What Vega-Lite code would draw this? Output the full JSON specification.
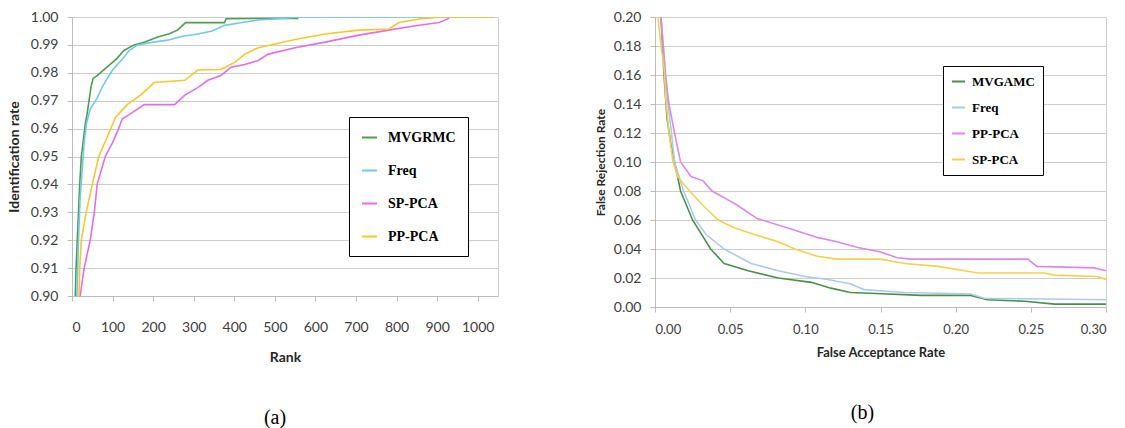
{
  "$schema": "https://vega.github.io/schema/vega-lite/v6.json",
  "background": "white",
  "padding": {"left": 6, "top": 9, "right": 10, "bottom": 2},
  "spacing": 94,
  "config": {
    "font": "Lato",
    "view": {"stroke": "#d0d0d0", "strokeWidth": 1},
    "axis": {
      "labelFont": "Lato", "titleFont": "Lato",
      "labelColor": "#404040", "titleColor": "#262626",
      "domainColor": "#bdbdbd", "tickColor": "#bdbdbd", "gridColor": "#cdcdcd",
      "titleFontWeight": "bold"
    },
    "legend": {
      "labelFont": "Liberation Serif", "labelFontWeight": "bold", "labelColor": "black",
      "strokeColor": "black", "fillColor": "white", "symbolType": "stroke",
      "symbolStrokeWidth": 2, "labelLimit": 300
    },
    "title": {"font": "Liberation Serif", "fontSize": 20, "fontWeight": "normal", "color": "black"}
  },
  "datasets": {
    "a": [
      {"s": "MVGRMC", "x": 8, "y": 0.900}, {"s": "MVGRMC", "x": 10, "y": 0.910}, {"s": "MVGRMC", "x": 13, "y": 0.920},
      {"s": "MVGRMC", "x": 16, "y": 0.930}, {"s": "MVGRMC", "x": 19, "y": 0.940}, {"s": "MVGRMC", "x": 23, "y": 0.950},
      {"s": "MVGRMC", "x": 28, "y": 0.956}, {"s": "MVGRMC", "x": 33, "y": 0.962}, {"s": "MVGRMC", "x": 37, "y": 0.965},
      {"s": "MVGRMC", "x": 42, "y": 0.970}, {"s": "MVGRMC", "x": 47, "y": 0.975}, {"s": "MVGRMC", "x": 52, "y": 0.978},
      {"s": "MVGRMC", "x": 62, "y": 0.979}, {"s": "MVGRMC", "x": 74, "y": 0.9805}, {"s": "MVGRMC", "x": 94, "y": 0.983},
      {"s": "MVGRMC", "x": 110, "y": 0.985}, {"s": "MVGRMC", "x": 128, "y": 0.988}, {"s": "MVGRMC", "x": 153, "y": 0.990},
      {"s": "MVGRMC", "x": 180, "y": 0.991}, {"s": "MVGRMC", "x": 211, "y": 0.9928}, {"s": "MVGRMC", "x": 240, "y": 0.994},
      {"s": "MVGRMC", "x": 260, "y": 0.9953}, {"s": "MVGRMC", "x": 280, "y": 0.998}, {"s": "MVGRMC", "x": 376, "y": 0.998},
      {"s": "MVGRMC", "x": 380, "y": 0.9994}, {"s": "MVGRMC", "x": 558, "y": 0.9995},

      {"s": "Freq", "x": 12, "y": 0.900}, {"s": "Freq", "x": 16, "y": 0.920}, {"s": "Freq", "x": 20, "y": 0.935},
      {"s": "Freq", "x": 25, "y": 0.945}, {"s": "Freq", "x": 30, "y": 0.955}, {"s": "Freq", "x": 36, "y": 0.962},
      {"s": "Freq", "x": 45, "y": 0.967}, {"s": "Freq", "x": 62, "y": 0.971}, {"s": "Freq", "x": 75, "y": 0.975},
      {"s": "Freq", "x": 87, "y": 0.978}, {"s": "Freq", "x": 100, "y": 0.981}, {"s": "Freq", "x": 112, "y": 0.983},
      {"s": "Freq", "x": 125, "y": 0.985}, {"s": "Freq", "x": 141, "y": 0.988}, {"s": "Freq", "x": 161, "y": 0.990},
      {"s": "Freq", "x": 200, "y": 0.991}, {"s": "Freq", "x": 236, "y": 0.9917}, {"s": "Freq", "x": 270, "y": 0.993},
      {"s": "Freq", "x": 310, "y": 0.9939}, {"s": "Freq", "x": 345, "y": 0.995}, {"s": "Freq", "x": 376, "y": 0.997},
      {"s": "Freq", "x": 420, "y": 0.998}, {"s": "Freq", "x": 459, "y": 0.9989}, {"s": "Freq", "x": 520, "y": 0.9995},
      {"s": "Freq", "x": 560, "y": 1.0}, {"s": "Freq", "x": 1040, "y": 1.0},

      {"s": "SP-PCA", "x": 20, "y": 0.900}, {"s": "SP-PCA", "x": 30, "y": 0.910}, {"s": "SP-PCA", "x": 45, "y": 0.920},
      {"s": "SP-PCA", "x": 55, "y": 0.930}, {"s": "SP-PCA", "x": 62, "y": 0.940}, {"s": "SP-PCA", "x": 82, "y": 0.950},
      {"s": "SP-PCA", "x": 100, "y": 0.955}, {"s": "SP-PCA", "x": 115, "y": 0.960}, {"s": "SP-PCA", "x": 124, "y": 0.9635},
      {"s": "SP-PCA", "x": 141, "y": 0.965}, {"s": "SP-PCA", "x": 178, "y": 0.9686}, {"s": "SP-PCA", "x": 253, "y": 0.9686},
      {"s": "SP-PCA", "x": 278, "y": 0.972}, {"s": "SP-PCA", "x": 310, "y": 0.9747}, {"s": "SP-PCA", "x": 335, "y": 0.9773},
      {"s": "SP-PCA", "x": 367, "y": 0.979}, {"s": "SP-PCA", "x": 392, "y": 0.982}, {"s": "SP-PCA", "x": 426, "y": 0.983},
      {"s": "SP-PCA", "x": 459, "y": 0.9844}, {"s": "SP-PCA", "x": 484, "y": 0.9867}, {"s": "SP-PCA", "x": 550, "y": 0.989},
      {"s": "SP-PCA", "x": 624, "y": 0.991}, {"s": "SP-PCA", "x": 707, "y": 0.9935}, {"s": "SP-PCA", "x": 781, "y": 0.9953},
      {"s": "SP-PCA", "x": 838, "y": 0.9967}, {"s": "SP-PCA", "x": 905, "y": 0.998}, {"s": "SP-PCA", "x": 930, "y": 0.9996},

      {"s": "PP-PCA", "x": 17, "y": 0.900}, {"s": "PP-PCA", "x": 19, "y": 0.910}, {"s": "PP-PCA", "x": 23, "y": 0.920},
      {"s": "PP-PCA", "x": 35, "y": 0.930}, {"s": "PP-PCA", "x": 50, "y": 0.940}, {"s": "PP-PCA", "x": 66, "y": 0.950},
      {"s": "PP-PCA", "x": 87, "y": 0.957}, {"s": "PP-PCA", "x": 107, "y": 0.964}, {"s": "PP-PCA", "x": 136, "y": 0.9686},
      {"s": "PP-PCA", "x": 169, "y": 0.972}, {"s": "PP-PCA", "x": 203, "y": 0.9765}, {"s": "PP-PCA", "x": 278, "y": 0.9773},
      {"s": "PP-PCA", "x": 293, "y": 0.979}, {"s": "PP-PCA", "x": 310, "y": 0.981}, {"s": "PP-PCA", "x": 367, "y": 0.9812},
      {"s": "PP-PCA", "x": 402, "y": 0.9838}, {"s": "PP-PCA", "x": 426, "y": 0.9867}, {"s": "PP-PCA", "x": 459, "y": 0.989},
      {"s": "PP-PCA", "x": 553, "y": 0.992}, {"s": "PP-PCA", "x": 624, "y": 0.9939}, {"s": "PP-PCA", "x": 707, "y": 0.9953},
      {"s": "PP-PCA", "x": 781, "y": 0.9957}, {"s": "PP-PCA", "x": 806, "y": 0.998}, {"s": "PP-PCA", "x": 856, "y": 0.9993},
      {"s": "PP-PCA", "x": 910, "y": 1.0}, {"s": "PP-PCA", "x": 1037, "y": 1.0}
    ],
    "b": [
      {"s": "MVGAMC", "x": 0.004, "y": 0.20}, {"s": "MVGAMC", "x": 0.006, "y": 0.16}, {"s": "MVGAMC", "x": 0.008, "y": 0.13},
      {"s": "MVGAMC", "x": 0.0106, "y": 0.112}, {"s": "MVGAMC", "x": 0.013, "y": 0.10}, {"s": "MVGAMC", "x": 0.017, "y": 0.08},
      {"s": "MVGAMC", "x": 0.025, "y": 0.06}, {"s": "MVGAMC", "x": 0.037, "y": 0.04}, {"s": "MVGAMC", "x": 0.046, "y": 0.03},
      {"s": "MVGAMC", "x": 0.062, "y": 0.025}, {"s": "MVGAMC", "x": 0.082, "y": 0.02}, {"s": "MVGAMC", "x": 0.104, "y": 0.017},
      {"s": "MVGAMC", "x": 0.117, "y": 0.013}, {"s": "MVGAMC", "x": 0.130, "y": 0.010}, {"s": "MVGAMC", "x": 0.143, "y": 0.0095},
      {"s": "MVGAMC", "x": 0.177, "y": 0.008}, {"s": "MVGAMC", "x": 0.210, "y": 0.008}, {"s": "MVGAMC", "x": 0.221, "y": 0.005},
      {"s": "MVGAMC", "x": 0.246, "y": 0.004}, {"s": "MVGAMC", "x": 0.266, "y": 0.002}, {"s": "MVGAMC", "x": 0.300, "y": 0.002},

      {"s": "Freq", "x": 0.004, "y": 0.20}, {"s": "Freq", "x": 0.007, "y": 0.16}, {"s": "Freq", "x": 0.0086, "y": 0.14},
      {"s": "Freq", "x": 0.011, "y": 0.12}, {"s": "Freq", "x": 0.013, "y": 0.10}, {"s": "Freq", "x": 0.019, "y": 0.08},
      {"s": "Freq", "x": 0.027, "y": 0.06}, {"s": "Freq", "x": 0.034, "y": 0.05}, {"s": "Freq", "x": 0.046, "y": 0.04},
      {"s": "Freq", "x": 0.064, "y": 0.03}, {"s": "Freq", "x": 0.082, "y": 0.025}, {"s": "Freq", "x": 0.100, "y": 0.021},
      {"s": "Freq", "x": 0.115, "y": 0.019}, {"s": "Freq", "x": 0.121, "y": 0.0177}, {"s": "Freq", "x": 0.130, "y": 0.016},
      {"s": "Freq", "x": 0.139, "y": 0.012}, {"s": "Freq", "x": 0.166, "y": 0.010}, {"s": "Freq", "x": 0.210, "y": 0.009},
      {"s": "Freq", "x": 0.219, "y": 0.006}, {"s": "Freq", "x": 0.260, "y": 0.0055}, {"s": "Freq", "x": 0.300, "y": 0.005},

      {"s": "PP-PCA", "x": 0.004, "y": 0.20}, {"s": "PP-PCA", "x": 0.007, "y": 0.16}, {"s": "PP-PCA", "x": 0.0093, "y": 0.14},
      {"s": "PP-PCA", "x": 0.013, "y": 0.12}, {"s": "PP-PCA", "x": 0.017, "y": 0.10}, {"s": "PP-PCA", "x": 0.024, "y": 0.09},
      {"s": "PP-PCA", "x": 0.032, "y": 0.087}, {"s": "PP-PCA", "x": 0.038, "y": 0.08}, {"s": "PP-PCA", "x": 0.050, "y": 0.073},
      {"s": "PP-PCA", "x": 0.055, "y": 0.07}, {"s": "PP-PCA", "x": 0.068, "y": 0.061}, {"s": "PP-PCA", "x": 0.090, "y": 0.054},
      {"s": "PP-PCA", "x": 0.108, "y": 0.048}, {"s": "PP-PCA", "x": 0.121, "y": 0.045}, {"s": "PP-PCA", "x": 0.135, "y": 0.041},
      {"s": "PP-PCA", "x": 0.150, "y": 0.038}, {"s": "PP-PCA", "x": 0.161, "y": 0.034}, {"s": "PP-PCA", "x": 0.170, "y": 0.033},
      {"s": "PP-PCA", "x": 0.248, "y": 0.033}, {"s": "PP-PCA", "x": 0.254, "y": 0.028}, {"s": "PP-PCA", "x": 0.292, "y": 0.027},
      {"s": "PP-PCA", "x": 0.300, "y": 0.025},

      {"s": "SP-PCA", "x": 0.002, "y": 0.20}, {"s": "SP-PCA", "x": 0.004, "y": 0.18}, {"s": "SP-PCA", "x": 0.006, "y": 0.165},
      {"s": "SP-PCA", "x": 0.0073, "y": 0.142}, {"s": "SP-PCA", "x": 0.0093, "y": 0.12}, {"s": "SP-PCA", "x": 0.012, "y": 0.10},
      {"s": "SP-PCA", "x": 0.015, "y": 0.09}, {"s": "SP-PCA", "x": 0.023, "y": 0.08}, {"s": "SP-PCA", "x": 0.032, "y": 0.07},
      {"s": "SP-PCA", "x": 0.042, "y": 0.06}, {"s": "SP-PCA", "x": 0.052, "y": 0.055}, {"s": "SP-PCA", "x": 0.066, "y": 0.05},
      {"s": "SP-PCA", "x": 0.082, "y": 0.045}, {"s": "SP-PCA", "x": 0.093, "y": 0.04}, {"s": "SP-PCA", "x": 0.108, "y": 0.035},
      {"s": "SP-PCA", "x": 0.121, "y": 0.033}, {"s": "SP-PCA", "x": 0.150, "y": 0.033}, {"s": "SP-PCA", "x": 0.166, "y": 0.030},
      {"s": "SP-PCA", "x": 0.188, "y": 0.028}, {"s": "SP-PCA", "x": 0.206, "y": 0.025}, {"s": "SP-PCA", "x": 0.215, "y": 0.0235},
      {"s": "SP-PCA", "x": 0.259, "y": 0.0235}, {"s": "SP-PCA", "x": 0.266, "y": 0.022}, {"s": "SP-PCA", "x": 0.294, "y": 0.021},
      {"s": "SP-PCA", "x": 0.300, "y": 0.019}
    ]
  },
  "hconcat": [
    {
      "width": 426,
      "height": 279,
      "data": {"name": "a"},
      "title": {"text": "(a)", "orient": "bottom", "offset": 44, "dx": -10},
      "mark": {"type": "line", "strokeWidth": 1.6, "clip": true},
      "encoding": {
        "x": {
          "field": "x", "type": "quantitative",
          "scale": {"domain": [0, 1050], "nice": false, "zero": false},
          "axis": {
            "values": [0, 100, 200, 300, 400, 500, 600, 700, 800, 900, 1000],
            "format": "d", "grid": false, "title": "Rank",
            "labelFontSize": 14, "titleFontSize": 14, "tickSize": 5,
            "labelPadding": 19, "titlePadding": 16
          }
        },
        "y": {
          "field": "y", "type": "quantitative",
          "scale": {"domain": [0.9, 1.0], "nice": false, "zero": false},
          "axis": {
            "values": [0.90, 0.91, 0.92, 0.93, 0.94, 0.95, 0.96, 0.97, 0.98, 0.99, 1.00],
            "format": ".2f", "grid": true, "title": "Identification rate",
            "labelFontSize": 14, "titleFontSize": 14, "tickSize": 5,
            "labelPadding": 9, "titlePadding": 9
          }
        },
        "color": {
          "field": "s", "type": "nominal",
          "scale": {
            "domain": ["MVGRMC", "Freq", "SP-PCA", "PP-PCA"],
            "range": ["#4f9d4f", "#6ccbea", "#e36ee6", "#f6c82c"]
          },
          "legend": {
            "title": null, "orient": "none", "legendX": 277, "legendY": 100,
            "padding": 12, "rowPadding": 17, "labelFontSize": 14,
            "symbolSize": 225, "labelOffset": 10
          }
        }
      }
    },
    {
      "width": 451,
      "height": 290,
      "data": {"name": "b"},
      "title": {"text": "(b)", "orient": "bottom", "offset": 44, "dx": -18},
      "mark": {"type": "line", "strokeWidth": 1.6, "clip": true},
      "encoding": {
        "x": {
          "field": "x", "type": "quantitative",
          "scale": {"domain": [0, 0.3], "nice": false, "zero": false},
          "axis": {
            "values": [0, 0.05, 0.10, 0.15, 0.20, 0.25, 0.30],
            "format": ".2f", "grid": false, "title": "False Acceptance Rate",
            "labelFontSize": 13, "titleFontSize": 13, "tickSize": 5,
            "labelPadding": 11, "titlePadding": 10
          }
        },
        "y": {
          "field": "y", "type": "quantitative",
          "scale": {"domain": [0, 0.2], "nice": false, "zero": false},
          "axis": {
            "values": [0, 0.02, 0.04, 0.06, 0.08, 0.10, 0.12, 0.14, 0.16, 0.18, 0.20],
            "format": ".2f", "grid": true, "title": "False Rejection Rate",
            "labelFontSize": 14, "titleFontSize": 12, "tickSize": 5,
            "labelPadding": 9, "titlePadding": 6
          }
        },
        "color": {
          "field": "s", "type": "nominal",
          "scale": {
            "domain": ["MVGAMC", "Freq", "PP-PCA", "SP-PCA"],
            "range": ["#4b8f4b", "#a9cceb", "#d98ae6", "#f2d24a"]
          },
          "legend": {
            "title": null, "orient": "none", "legendX": 288, "legendY": 49,
            "padding": 8, "rowPadding": 11, "labelFontSize": 13,
            "symbolSize": 169, "labelOffset": 6
          }
        }
      }
    }
  ],
  "resolve": {"scale": {"color": "independent"}, "legend": {"color": "independent"}}
}
